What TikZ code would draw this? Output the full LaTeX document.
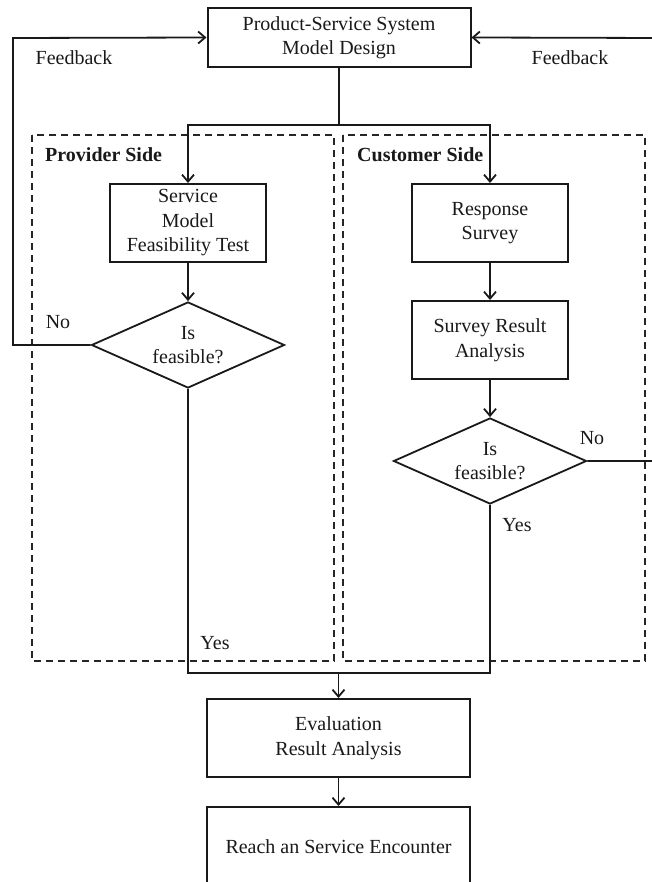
\documentclass[tikz,border=0pt]{standalone}
\usepackage{fontspec}
\setmainfont{Liberation Serif}
\usetikzlibrary{arrows.meta,shapes.geometric}

\begin{document}
\begin{tikzpicture}[x=1pt,y=-1pt,
  txt/.style={font=\fontsize{20}{24.5}\selectfont, text=black!90, align=center},
  box/.style={txt, draw=black!90, line width=2pt, rectangle, inner sep=0pt},
  dec/.style={txt, draw=black!90, line width=1.8pt, diamond, inner sep=0pt,
    shape aspect=2.2, minimum width=193pt, minimum height=86pt},
  link/.style={draw=black!90, line width=1.8pt},
  arr/.style={link, -{Straight Barb[length=7pt,width=12pt,line width=1.8pt]}},
  side/.style={draw=black!85, line width=2pt, dash pattern=on 7pt off 5pt},
  lbl/.style={txt, inner sep=0pt},
  hdr/.style={txt, font=\fontsize{20}{24}\selectfont\bfseries, inner sep=0pt, anchor=west}
]
\useasboundingbox (0,0) rectangle (652,882);
\clip (0,0) rectangle (652,882);

% provider / customer areas
\draw[side] (32,135) rectangle (334,661);
\draw[side] (343,135) rectangle (645,661);
\node[hdr] (prov) at (45,155) {Provider Side};
\node[hdr] (cust) at (357,155) {Customer Side};

% process boxes
\node[box, minimum width=263pt, minimum height=59pt] (psd) at (339,37.5)
  {Product-Service System\\Model Design};
\node[box, minimum width=156pt, minimum height=78pt] (svc) at (188,223)
  {Service\\Model\\Feasibility Test};
\node[box, minimum width=156pt, minimum height=78pt] (resp) at (490,223)
  {Response\\Survey};
\node[box, minimum width=156pt, minimum height=78pt] (sra) at (490,340)
  {Survey Result\\Analysis};
\node[box, minimum width=263pt, minimum height=78pt] (eva) at (338.5,738)
  {Evaluation\\Result Analysis};
\node[box, minimum width=263pt, minimum height=80pt] (enc) at (338.5,847)
  {Reach an Service Encounter};

% decisions
\node[dec] (dl) at (188,345) {Is\\feasible?};
\node[dec] (dr) at (490,461) {Is\\feasible?};

% split from the design box to both sides
\coordinate (split) at (339,125);
\draw[link] (psd.south) -- (split);
\draw[arr] (split) -| (svc.north);
\draw[arr] (split) -| (resp.north);

% vertical flows
\draw[arr] (svc.south) -- (dl.north);
\draw[arr] (resp.south) -- (sra.north);
\draw[arr] (sra.south) -- (dr.north);

% feedback loops
\coordinate (fbl) at (13,38);
\coordinate (fbr) at (662,38);
\draw[arr] (dl.west) -| (fbl) -- (psd.west);
\draw[arr] (dr.east) -| (fbr) -- (psd.east);

% merge into evaluation
\coordinate (merge) at (338.5,673);
\draw[link] (dl.south) |- (merge);
\draw[link] (dr.south) |- (merge);
\draw[arr] (merge) -- (eva.north);
\draw[arr] (eva.south) -- (enc.north);

% labels
\node[lbl] (fbtl) at (74,58) {Feedback};
\node[lbl] (fbtr) at (570,58) {Feedback};
\node[lbl] (nol) at (58,322) {No};
\node[lbl] (nor) at (592,438) {No};
\node[lbl] (yesr) at (517,525) {Yes};
\node[lbl] (yesl) at (215,643) {Yes};
\end{tikzpicture}
\end{document}
